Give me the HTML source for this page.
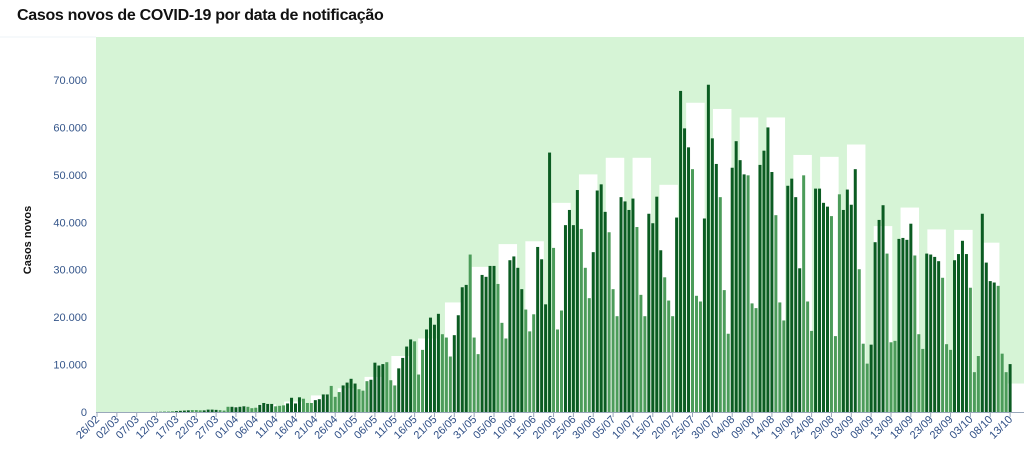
<!DOCTYPE html>
<html><head><meta charset="utf-8"><style>
html,body{margin:0;padding:0;background:#fff;width:1024px;height:455px;overflow:hidden;font-family:"Liberation Sans",sans-serif}
#title{position:absolute;left:17px;top:7px;font-size:16px;font-weight:bold;color:#111;letter-spacing:-0.3px}
svg{position:absolute;left:0;top:0}
</style></head><body>
<div id="title">Casos novos de COVID-19 por data de notificação</div>
<svg id="chart" width="1024" height="455"></svg>
<script>
const dailyCases = [0,0,0,0,0,0,0,0,0,0,0,0,0,0,0.02,0.03,0.05,0.1,0.1,0.15,0.2,0.25,0.3,0.35,0.4,0.4,0.35,0.35,0.5,0.5,0.45,0.4,0.3,1.1,1.1,1.0,1.1,1.2,1.1,0.8,0.9,1.5,1.9,1.7,1.7,1.2,1.3,1.4,1.8,3.0,1.8,3.1,2.8,1.9,1.9,2.5,2.7,3.7,3.7,
5.5,3.2,4.2,5.6,6.2,7.0,6.0,4.8,4.5,6.5,6.8,10.4,9.8,10.1,10.5,6.7,5.6,9.2,11.4,13.8,15.3,14.9,7.9,13.1,17.4,19.9,18.4,20.7,16.4,15.7,11.7,16.2,20.4,26.3,26.8,33.2,15.7,12.2,
28.9,28.5,30.8,30.8,27.0,18.8,15.5,32.0,32.8,30.4,25.9,21.6,17.0,20.6,34.8,32.2,22.7,54.7,34.6,17.4,21.4,39.4,42.6,39.4,46.8,38.6,30.4,24.0,33.7,46.7,48.0,42.2,37.9,25.9,
20.2,45.3,44.4,42.6,45.0,39.0,24.7,20.2,41.8,39.8,45.4,34.1,28.4,23.5,20.2,41.0,67.7,59.8,55.8,51.2,24.5,23.3,40.8,69.0,57.7,52.3,45.3,25.7,16.5,51.5,57.1,53.1,50.1,49.9,22.9,21.9,52.1,
55.1,60.0,50.6,41.5,23.1,19.3,47.7,49.2,45.3,30.3,49.9,23.3,17.1,47.1,47.1,44.1,43.3,41.3,16.0,45.9,42.6,46.9,43.7,51.2,30.1,14.4,10.2,14.2,35.8,40.5,43.6,33.4,
14.7,15.0,36.5,36.7,36.3,39.7,33.0,16.4,13.3,33.4,33.2,32.7,31.8,28.3,14.3,13.1,32.0,33.3,36.1,33.3,26.2,8.4,11.8,41.8,31.5,27.6,27.3,26.6,12.3,8.4,10.1];
const weeklyValues = [0,0,0.05,0.2,0.4,1.1,1.6,2.2,3.5,5.0,7.4,11.8,15.5,23.1,30.6,35.4,36.0,44.1,50.1,53.6,53.6,47.9,65.2,63.9,62.1,62.1,54.2,53.8,56.4,39.2,43.1,38.5,38.4,35.7,6.0];
const yTicks = [0,10,20,30,40,50,60,70];
const yTickLabels = ["0","10.000","20.000","30.000","40.000","50.000","60.000","70.000"];
const xLabels = ["26/02","02/03","07/03","12/03","17/03","22/03","27/03","01/04","06/04","11/04","16/04","21/04","26/04","01/05","06/05","11/05","16/05","21/05","26/05","31/05","05/06","10/06","15/06","20/06","25/06","30/06","05/07","10/07","15/07","20/07","25/07","30/07","04/08","09/08","14/08","19/08","24/08","29/08","03/09","08/09","13/09","18/09","23/09","28/09","03/10","08/10","13/10"];

const NS="http://www.w3.org/2000/svg";
const svg=document.getElementById('chart');
function mk(t,a,parent){const e=document.createElementNS(NS,t);for(const k in a)e.setAttribute(k,a[k]);(parent||svg).appendChild(e);return e;}
const y0=412, yTop=80;
function yScale(v){return y0-v*(y0-yTop)/70;}
function xDay(i){return 97+i*3.97;}
function xWeek(k){return 105.8+k*26.8;}

const bg=mk('rect',{x:96,y:37,width:928,height:375,fill:'#d6f4d6'});


const topLine=mk('line',{x1:0,y1:37,x2:96,y2:37,stroke:'#eef3f7','stroke-width':1});



weeklyValues.forEach((v,k)=>{
  const cx=xWeek(k);
  const r=mk('rect',{x:cx-9.25,y:yScale(v),width:18.5,height:y0-yScale(v),fill:'#ffffff'});
  
  
});

dailyCases.forEach((v,i)=>{
  const dow=(i+3)%7;
  const light=(dow===6||dow===0||dow===1);
  const r=mk('rect',{x:xDay(i)-1.5,y:yScale(v),width:3,height:Math.max(0,y0-yScale(v)),fill:light?'#4c9c5a':'#0b5c22'});
  
  
});

const axis=mk('line',{x1:96,y1:412.5,x2:1024,y2:412.5,stroke:'#9aa8bb','stroke-width':1});



yTicks.forEach((t,j)=>{
  const tx=mk('text',{x:87,y:yScale(t)+4,'text-anchor':'end','font-size':'11',fill:'#34558a','font-family':'Liberation Sans, sans-serif'});
  tx.textContent=yTickLabels[j];
  
  
});

xLabels.forEach((l,j)=>{
  const x=xDay(j*5);
  const tk=mk('line',{x1:x,y1:412,x2:x,y2:417,stroke:'#9aa8bb','stroke-width':1});
  
  
  const tx=mk('text',{x:x+3,y:420,'text-anchor':'end','font-size':'11',fill:'#2f4f86','font-family':'Liberation Sans, sans-serif',transform:'rotate(-45 '+(x+3)+' 420)'});
  tx.textContent=l;
  
  
});

const yt=mk('text',{x:31,y:240,'text-anchor':'middle','font-size':'11','font-weight':'bold',fill:'#111','font-family':'Liberation Sans, sans-serif',transform:'rotate(-90 31 240)'});
yt.textContent='Casos novos';


</script>
</body></html>
